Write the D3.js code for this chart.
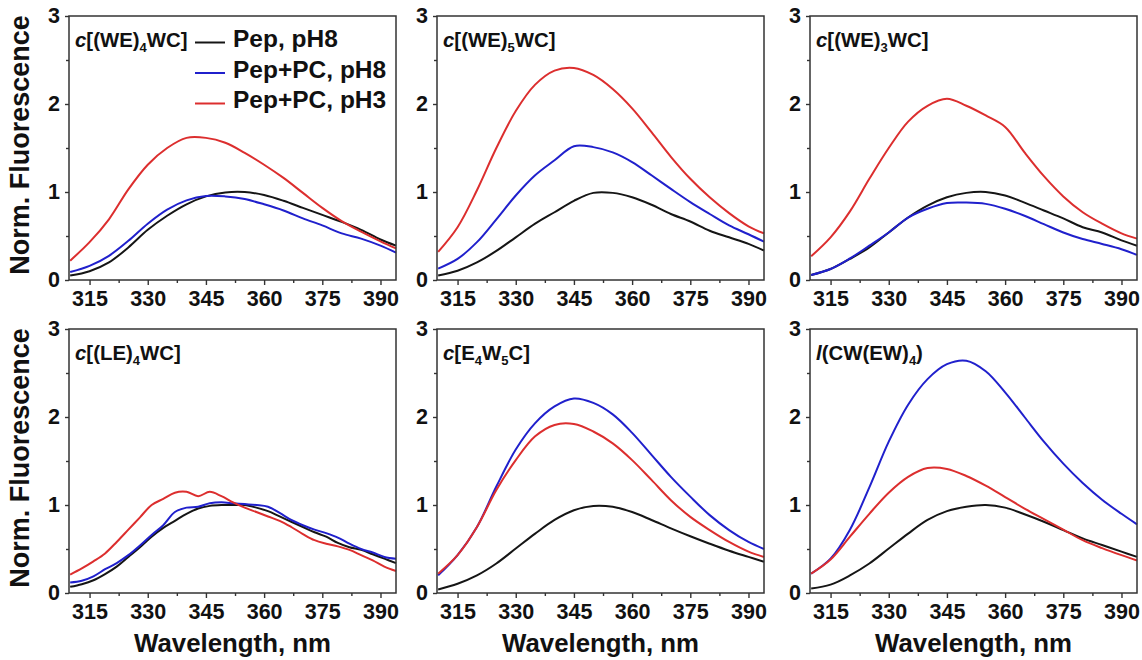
<!DOCTYPE html>
<html><head><meta charset="utf-8">
<script src="https://cdn.jsdelivr.net/npm/d3@7"></script>
<style>
body{margin:0;background:#fff;}
svg{display:block;font-family:"Liberation Sans",Arial,sans-serif;font-weight:bold;}
</style></head><body>
<svg id="chart" width="1142" height="660"></svg>
<script>
// ---------- DATA ----------
const wl = [310,315,320,325,330,335,340,345,350,355,360,365,370,375,380,385,390,394];
const wlLE = [310,313,316,319,322,325,328,331,334,337,340,343,346,349,352,355,358,361,364,367,370,373,376,379,382,385,388,391,394];
const seriesNames = ["Pep, pH8","Pep+PC, pH8","Pep+PC, pH3"];
const xTickValues = [315,330,345,360,375,390];
const xMinorTicks = [322.5,337.5,352.5,367.5,382.5];
const yTickValues = [0,1,2,3];
const yMinorTicks = [0.5,1.5,2.5];
const panelTitles = ["c[(WE)_4WC]","c[(WE)_5WC]","c[(WE)_3WC]","c[(LE)_4WC]","c[E_4W_5C]","l(CW(EW)_4)"];

// c[(WE)4WC]
const we4Pep   = [0.05,0.10,0.20,0.37,0.57,0.73,0.86,0.95,0.995,1.0,0.965,0.90,0.82,0.74,0.66,0.57,0.46,0.39];
const we4PcPh8 = [0.09,0.16,0.275,0.445,0.64,0.80,0.905,0.955,0.95,0.92,0.86,0.79,0.70,0.62,0.53,0.47,0.39,0.31];
const we4PcPh3 = [0.22,0.43,0.69,1.03,1.31,1.50,1.615,1.615,1.56,1.445,1.31,1.16,0.99,0.82,0.67,0.55,0.44,0.36];
// c[(WE)5WC]
const we5Pep   = [0.05,0.105,0.20,0.33,0.485,0.64,0.77,0.90,0.99,0.99,0.94,0.855,0.75,0.665,0.56,0.485,0.41,0.335];
const we5PcPh8 = [0.13,0.24,0.43,0.69,0.96,1.19,1.36,1.52,1.51,1.45,1.34,1.19,1.035,0.885,0.75,0.62,0.52,0.435];
const we5PcPh3 = [0.32,0.60,1.02,1.50,1.92,2.22,2.38,2.41,2.33,2.17,1.95,1.68,1.40,1.15,0.94,0.76,0.61,0.53];
// c[(WE)3WC]
const we3Pep   = [0.057,0.125,0.24,0.37,0.54,0.71,0.845,0.94,0.99,1.0,0.96,0.88,0.79,0.70,0.60,0.54,0.45,0.39];
const we3PcPh8 = [0.057,0.125,0.245,0.39,0.54,0.71,0.81,0.875,0.88,0.865,0.81,0.73,0.635,0.54,0.465,0.41,0.35,0.285];
const we3PcPh3 = [0.27,0.485,0.78,1.15,1.50,1.80,1.98,2.06,1.98,1.87,1.74,1.45,1.18,0.95,0.77,0.64,0.53,0.47];
// c[(LE)4WC]  (on wlLE grid)
const le4Pep   = [0.07,0.10,0.145,0.215,0.30,0.41,0.52,0.64,0.74,0.82,0.90,0.96,0.99,1.0,1.0,1.0,0.97,0.93,0.87,0.81,0.75,0.69,0.64,0.57,0.52,0.49,0.44,0.39,0.34];
const le4PcPh8 = [0.12,0.14,0.19,0.27,0.34,0.43,0.54,0.66,0.77,0.92,0.97,0.98,1.02,1.03,1.02,1.01,1.0,0.98,0.91,0.83,0.77,0.72,0.68,0.63,0.56,0.50,0.46,0.41,0.39];
const le4PcPh3 = [0.21,0.28,0.36,0.45,0.58,0.72,0.86,1.0,1.07,1.14,1.15,1.10,1.15,1.10,1.03,0.97,0.92,0.87,0.82,0.75,0.67,0.60,0.56,0.53,0.49,0.43,0.37,0.30,0.25];
// c[E4W5C]
const e4w5Pep   = [0.04,0.105,0.20,0.335,0.505,0.675,0.83,0.94,0.99,0.98,0.92,0.83,0.735,0.645,0.56,0.48,0.41,0.355];
const e4w5PcPh8 = [0.20,0.43,0.75,1.21,1.63,1.93,2.12,2.21,2.16,2.03,1.82,1.57,1.32,1.095,0.885,0.715,0.58,0.50];
const e4w5PcPh3 = [0.22,0.43,0.75,1.17,1.51,1.78,1.91,1.92,1.835,1.70,1.51,1.285,1.055,0.865,0.715,0.58,0.47,0.41];
// l(CW(EW)4)
const cwPep   = [0.05,0.095,0.20,0.335,0.505,0.675,0.83,0.93,0.98,1.0,0.97,0.895,0.81,0.715,0.62,0.545,0.47,0.41];
const cwPcPh8 = [0.22,0.39,0.72,1.20,1.72,2.14,2.43,2.60,2.64,2.52,2.28,2.00,1.72,1.47,1.25,1.06,0.90,0.78];
const cwPcPh3 = [0.22,0.38,0.64,0.90,1.14,1.32,1.42,1.41,1.33,1.22,1.09,0.96,0.84,0.72,0.60,0.51,0.43,0.37];

const seriesColors = ["#151515","#2020cc","#dc2e2e"];

// ---------- LAYOUT ----------
const panels = [
  {title: panelTitles[0], x: wl,   series: [we4Pep, we4PcPh8, we4PcPh3]},
  {title: panelTitles[1], x: wl,   series: [we5Pep, we5PcPh8, we5PcPh3]},
  {title: panelTitles[2], x: wl,   series: [we3Pep, we3PcPh8, we3PcPh3]},
  {title: panelTitles[3], x: wlLE, series: [le4Pep, le4PcPh8, le4PcPh3]},
  {title: panelTitles[4], x: wl,   series: [e4w5Pep, e4w5PcPh8, e4w5PcPh3]},
  {title: panelTitles[5], x: wl,   series: [cwPep, cwPcPh8, cwPcPh3]}
];
const colLeft = [69, 437, 810];
const rowTop = [16, 329];
const W = 327, H = 264;

const svg = d3.select("#chart");
const xScale = d3.scaleLinear().domain([309.7, 394]).range([0, W]);
const yScale = d3.scaleLinear().domain([0, 3]).range([H, 0]);

function drawTitle(g, str) {
  const t = g.append("text").attr("x", 6).attr("y", 31)
    .attr("font-size", 20.4).attr("fill", "#111");
  t.append("tspan").attr("font-style", "italic").text(str[0]);
  const rest = str.slice(1);
  const parts = rest.split(/(_\d)/).filter(s => s.length);
  let sub = false;
  parts.forEach(p => {
    if (p[0] === "_") {
      t.append("tspan").attr("font-size", 13).attr("dy", 5).text(p.slice(1));
      sub = true;
    } else {
      const ts = t.append("tspan").text(p);
      if (sub) { ts.attr("dy", -5); sub = false; }
    }
  });
}

panels.forEach((p, i) => {
  const c = i % 3, r = Math.floor(i / 3);
  const g = svg.append("g").attr("transform", `translate(${colLeft[c]},${rowTop[r]})`);

  const line = d3.line().x((d, k) => xScale(p.x[k])).y(d => yScale(d)).curve(d3.curveCatmullRom.alpha(0.5));
  p.series.forEach((s, k) => {
    g.append("path").datum(s).attr("d", line)
      .attr("fill", "none").attr("stroke", seriesColors[k]).attr("stroke-width", 2);
  });

  const xAxis = g.append("g").attr("transform", `translate(0,${H})`)
    .call(d3.axisBottom(xScale).tickValues(xTickValues).tickSize(5).tickPadding(6).tickFormat(d3.format("d")));
  const xMinor = g.append("g").attr("transform", `translate(0,${H})`)
    .call(d3.axisBottom(xScale).tickValues(xMinorTicks).tickSize(3).tickFormat(""));
  const yAxis = g.append("g")
    .call(d3.axisLeft(yScale).tickValues(yTickValues).tickSize(4).tickPadding(5).tickFormat(d3.format("d")));
  const yMinor = g.append("g")
    .call(d3.axisLeft(yScale).tickValues(yMinorTicks).tickSize(3).tickFormat(""));
  [xAxis, xMinor, yAxis, yMinor].forEach(a => {
    a.select(".domain").remove();
    a.selectAll("line").attr("stroke", "#333").attr("stroke-width", 1.4);
    a.selectAll("text").attr("font-size", 21.5).attr("font-family", "Liberation Sans, Arial, sans-serif")
      .attr("font-weight", "bold").attr("fill", "#111");
  });

  g.append("rect").attr("x", 0).attr("y", 0).attr("width", W).attr("height", H)
    .attr("fill", "none").attr("stroke", "#333").attr("stroke-width", 1.5);

  drawTitle(g, p.title);

  if (i === 0) {
    seriesNames.forEach((nm, k) => {
      const by = 31 + k * 30.5;
      g.append("line").attr("x1", 126).attr("x2", 156).attr("y1", by - 4.5).attr("y2", by - 4.5)
        .attr("stroke", seriesColors[k]).attr("stroke-width", 2);
      g.append("text").attr("x", 164).attr("y", by).attr("font-size", 24.5).attr("fill", "#111").text(nm);
    });
  }
});

rowTop.forEach(t => {
  svg.append("text").attr("transform", `translate(29,${t + H / 2 - 3}) rotate(-90)`)
    .attr("text-anchor", "middle").attr("font-size", 27).attr("fill", "#111").text("Norm. Fluorescence");
});
colLeft.forEach(l => {
  svg.append("text").attr("x", l + W / 2).attr("y", 652)
    .attr("text-anchor", "middle").attr("font-size", 25.8).attr("fill", "#111").text("Wavelength, nm");
});
</script>
</body></html>
